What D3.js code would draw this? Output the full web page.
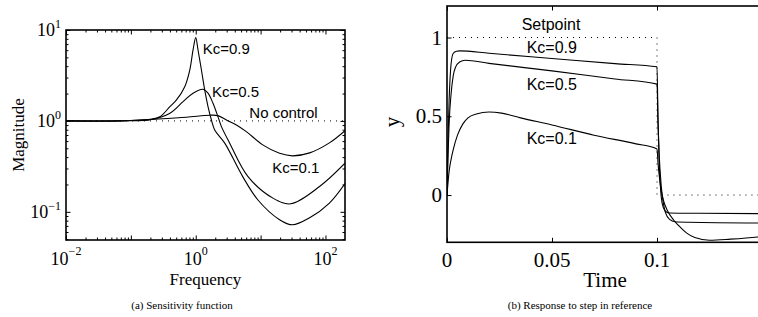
<!DOCTYPE html>
<html>
<head>
<meta charset="utf-8">
<script src="https://cdn.jsdelivr.net/npm/d3@7"></script>
<style>
  body { margin: 0; background: #fff; }
  .serif { font-family: "Liberation Serif", "Times New Roman", serif; fill: #000; }
  .sans { font-family: "Liberation Sans", Arial, sans-serif; fill: #000; }
  .curve { fill: none; stroke: #000; stroke-width: 1.1; }
  .dotted { fill: none; stroke: #000; stroke-width: 1; stroke-dasharray: 1 5; }
  .tick line { stroke: #000; stroke-width: 1; }
  .domain { display: none; }
</style>
</head>
<body>
<script>
// ---- (a) sensitivity function data: frequency and magnitude for each gain ----
var kc09Freq = [0.01, 0.1, 0.2, 0.28, 0.4, 0.505, 0.677, 0.809, 0.909, 1.0, 1.085, 1.224, 1.375, 1.546, 1.744, 1.96,
                2.8, 5.3, 9.1, 19.6, 31, 57, 115, 200];
var kc09Mag  = [1.0, 1.01, 1.04, 1.11, 1.436, 1.70, 2.38, 3.63, 6.03, 8.24, 6.03, 3.63, 2.19, 1.436, 1.025, 0.796,
                0.57, 0.244, 0.135, 0.082, 0.072, 0.086, 0.125, 0.205];

var kc05Freq = [0.01, 0.1, 0.2, 0.4, 0.638, 0.909, 1.295, 1.546, 1.845, 2.2, 2.49, 3.34, 6.4, 15.5, 29, 81, 200];
var kc05Mag  = [1.0, 1.005, 1.03, 1.215, 1.63, 2.02, 2.23, 2.02, 1.565, 1.115, 0.866, 0.569, 0.244, 0.1415, 0.1225, 0.19, 0.343];

var kc01Freq = [0.01, 0.068, 0.22, 0.72, 1.64, 2.2, 2.97, 4.23, 6.03, 10.8, 19.6, 31, 57, 115, 200];
var kc01Mag  = [1.0, 1.0, 1.044, 1.098, 1.155, 1.144, 1.025, 0.904, 0.763, 0.545, 0.44, 0.413, 0.445, 0.573, 0.78];

var noControlFreq = [0.01, 200];
var noControlMag  = [1, 1];

var freqTickExp = [-2, 0, 2];
var magTickExp  = [-1, 0, 1];

// ---- (b) step response data ----
var kc09Time = [0, 0.0005, 0.001, 0.0015, 0.002, 0.003, 0.0045, 0.006, 0.02, 0.05, 0.08, 0.1,
                0.1005, 0.101, 0.1015, 0.102, 0.103, 0.1045, 0.106, 0.12, 0.15];
var kc09Y    = [0, 0.35, 0.6, 0.75, 0.84, 0.9, 0.913, 0.915, 0.9, 0.867, 0.834, 0.814,
                0.47, 0.22, 0.08, -0.01, -0.08, -0.108, -0.114, -0.116, -0.118];

var kc05Time = [0, 0.0005, 0.001, 0.002, 0.003, 0.004, 0.006, 0.0086, 0.02, 0.05, 0.08, 0.1,
                0.1005, 0.101, 0.102, 0.103, 0.104, 0.106, 0.1086, 0.115, 0.15];
var kc05Y    = [0, 0.25, 0.45, 0.65, 0.76, 0.81, 0.845, 0.856, 0.836, 0.788, 0.737, 0.704,
                0.45, 0.27, 0.06, -0.05, -0.11, -0.155, -0.17, -0.173, -0.178];

var kc01Time = [0, 0.001, 0.002, 0.003, 0.005, 0.0075, 0.01, 0.014, 0.02, 0.026, 0.035, 0.05, 0.07, 0.09, 0.1,
                0.1005, 0.101, 0.102, 0.103, 0.105, 0.108, 0.11, 0.114, 0.118, 0.125, 0.135, 0.148, 0.15];
var kc01Y    = [0, 0.15, 0.23, 0.29, 0.38, 0.45, 0.49, 0.515, 0.527, 0.52, 0.49, 0.445, 0.38, 0.325, 0.293,
                0.2, 0.13, 0.03, -0.03, -0.1, -0.16, -0.19, -0.24, -0.27, -0.287, -0.28, -0.266, -0.263];

var setpointTime = [0, 0.1, 0.1, 0.15];
var setpointY    = [1, 1, 0, 0];

var timeTicks = [0, 0.05, 0.1, 0.15];
var timeTickLabels = ["0", "0.05", "0.1", ""];
var yTicks = [0, 0.5, 1];
var yTickLabels = ["0", "0.5", "1"];

var svg = d3.select("body").append("svg")
    .attr("width", 758)
    .attr("height", 317);

function zip(xs, ys) { return xs.map(function(x, i) { return [x, ys[i]]; }); }

// ================= panel (a) =================
var ax = {left: 66, right: 345, top: 30, bottom: 240};
var xLog = d3.scaleLog().domain([0.01, 200]).range([ax.left, ax.right]);
var yLog = d3.scaleLog().domain([0.049, 10]).range([ax.bottom, ax.top]);

var majorX = d3.range(-2, 3).map(function(e) { return Math.pow(10, e); });
var majorY = d3.range(-1, 2).map(function(e) { return Math.pow(10, e); });
function minors(lo, hi, dom) {
    var out = [];
    for (var e = lo; e <= hi; e++)
        for (var m = 2; m <= 9; m++) {
            var v = m * Math.pow(10, e);
            if (v > dom[0] && v < dom[1]) out.push(v);
        }
    return out;
}
var minorX = minors(-2, 2, xLog.domain());
var minorY = minors(-2, 1, yLog.domain());

var ga = svg.append("g");
ga.append("clipPath").attr("id", "clipA").append("rect")
    .attr("x", ax.left).attr("y", ax.top)
    .attr("width", ax.right - ax.left).attr("height", ax.bottom - ax.top);

//inward ticks on the sides of a box
function addAxes(g, xs, ys, box, mx, my, len, withRight) {
    g.append("g").attr("transform", "translate(0," + box.bottom + ")")
        .call(d3.axisBottom(xs).tickValues(mx).tickSize(-len).tickFormat(""));
    g.append("g").attr("transform", "translate(0," + box.top + ")")
        .call(d3.axisTop(xs).tickValues(mx).tickSize(-len).tickFormat(""));
    g.append("g").attr("transform", "translate(" + box.left + ",0)")
        .call(d3.axisLeft(ys).tickValues(my).tickSize(-len).tickFormat(""));
    if (withRight) {
        g.append("g").attr("transform", "translate(" + box.right + ",0)")
            .call(d3.axisRight(ys).tickValues(my).tickSize(-len).tickFormat(""));
    }
}
addAxes(ga, xLog, yLog, ax, majorX, majorY, 4.5, true);
addAxes(ga, xLog, yLog, ax, minorX, minorY, 2.5, true);

var lineA = d3.line()
    .x(function(d) { return xLog(d[0]); })
    .y(function(d) { return yLog(d[1]); })
    .curve(d3.curveCatmullRom.alpha(0.5));

var curvesA = ga.append("g").attr("clip-path", "url(#clipA)");
curvesA.append("path").attr("class", "dotted").attr("d", lineA(zip(noControlFreq, noControlMag)));
[[kc01Freq, kc01Mag], [kc05Freq, kc05Mag], [kc09Freq, kc09Mag]].forEach(function(s) {
    curvesA.append("path").attr("class", "curve").attr("d", lineA(zip(s[0], s[1])));
});

ga.append("rect")
    .attr("x", ax.left).attr("y", ax.top)
    .attr("width", ax.right - ax.left).attr("height", ax.bottom - ax.top)
    .attr("fill", "none").attr("stroke", "#000").attr("stroke-width", 1.6);

// power-of-ten tick labels
freqTickExp.forEach(function(e) {
    var t = ga.append("text").attr("class", "serif")
        .attr("x", xLog(Math.pow(10, e))).attr("y", ax.bottom + 25)
        .attr("text-anchor", "middle").style("font-size", "18px");
    t.append("tspan").text("10");
    t.append("tspan").attr("dy", -10).style("font-size", "12px").text(e < 0 ? "\u2212" + (-e) : e);
});
magTickExp.forEach(function(e) {
    var t = ga.append("text").attr("class", "serif")
        .attr("x", 61).attr("y", yLog(Math.pow(10, e)) + 6)
        .attr("text-anchor", "end").style("font-size", "18px");
    t.append("tspan").text("10");
    t.append("tspan").attr("dy", -8).style("font-size", "12px").text(e < 0 ? "\u2212" + (-e) : e);
});

ga.append("text").attr("class", "serif")
    .attr("x", (ax.left + ax.right) / 2).attr("y", 285)
    .attr("text-anchor", "middle").style("font-size", "17px").text("Frequency");
ga.append("text").attr("class", "serif")
    .attr("transform", "translate(24," + ((ax.top + ax.bottom) / 2) + ") rotate(-90)")
    .attr("text-anchor", "middle").style("font-size", "17px").text("Magnitude");
ga.append("text").attr("class", "serif")
    .attr("x", 182).attr("y", 309)
    .attr("text-anchor", "middle").style("font-size", "11px").text("(a) Sensitivity function");

var annA = [["Kc=0.9", 202.7, 54], ["Kc=0.5", 212, 97], ["No control", 249.3, 118], ["Kc=0.1", 272.3, 172.7]];
annA.forEach(function(a) {
    ga.append("text").attr("class", "sans").attr("x", a[1]).attr("y", a[2])
        .style("font-size", "15px").text(a[0]);
});

// ================= panel (b) =================
var bx = {left: 447, right: 762, top: 6, bottom: 242.3};
var xT = d3.scaleLinear().domain([0, 0.15]).range([bx.left, bx.right]);
var yT = d3.scaleLinear().domain([-0.3, 1.2]).range([bx.bottom, bx.top]);

var gb = svg.append("g");
gb.append("clipPath").attr("id", "clipB").append("rect")
    .attr("x", bx.left).attr("y", bx.top)
    .attr("width", bx.right - bx.left).attr("height", bx.bottom - bx.top);

addAxes(gb, xT, yT, bx, timeTicks, yTicks, 4.5, false);

var lineB = d3.line()
    .x(function(d) { return xT(d[0]); })
    .y(function(d) { return yT(d[1]); })
    .curve(d3.curveMonotoneX);
var lineStep = d3.line()
    .x(function(d) { return xT(d[0]); })
    .y(function(d) { return yT(d[1]); });

var curvesB = gb.append("g").attr("clip-path", "url(#clipB)");
curvesB.append("path").attr("class", "dotted").attr("d", lineStep(zip(setpointTime, setpointY)));
[[kc01Time, kc01Y], [kc05Time, kc05Y], [kc09Time, kc09Y]].forEach(function(s) {
    curvesB.append("path").attr("class", "curve").attr("d", lineB(zip(s[0], s[1])));
});

gb.append("rect")
    .attr("x", bx.left).attr("y", bx.top)
    .attr("width", bx.right - bx.left).attr("height", bx.bottom - bx.top)
    .attr("fill", "none").attr("stroke", "#000").attr("stroke-width", 1.6);

timeTicks.forEach(function(v, i) {
    gb.append("text").attr("class", "serif")
        .attr("x", xT(v)).attr("y", bx.bottom + 24.5)
        .attr("text-anchor", "middle").style("font-size", "21px").text(timeTickLabels[i]);
});
yTicks.forEach(function(v, i) {
    gb.append("text").attr("class", "serif")
        .attr("x", 442).attr("y", yT(v) + 7)
        .attr("text-anchor", "end").style("font-size", "21px").text(yTickLabels[i]);
});

gb.append("text").attr("class", "serif")
    .attr("x", 605).attr("y", 287)
    .attr("text-anchor", "middle").style("font-size", "21px").text("Time");
gb.append("text").attr("class", "serif")
    .attr("transform", "translate(399,122) rotate(-90)")
    .attr("text-anchor", "middle").style("font-size", "21px").text("y");
gb.append("text").attr("class", "serif")
    .attr("x", 580).attr("y", 309)
    .attr("text-anchor", "middle").style("font-size", "11px").text("(b) Response to step in reference");

var annB = [["Setpoint", 521.7, 30], ["Kc=0.9", 526.7, 53.3], ["Kc=0.5", 526.7, 90], ["Kc=0.1", 526.7, 144]];
annB.forEach(function(a) {
    gb.append("text").attr("class", "sans").attr("x", a[1]).attr("y", a[2])
        .style("font-size", "16px").text(a[0]);
});
</script>
</body>
</html>
